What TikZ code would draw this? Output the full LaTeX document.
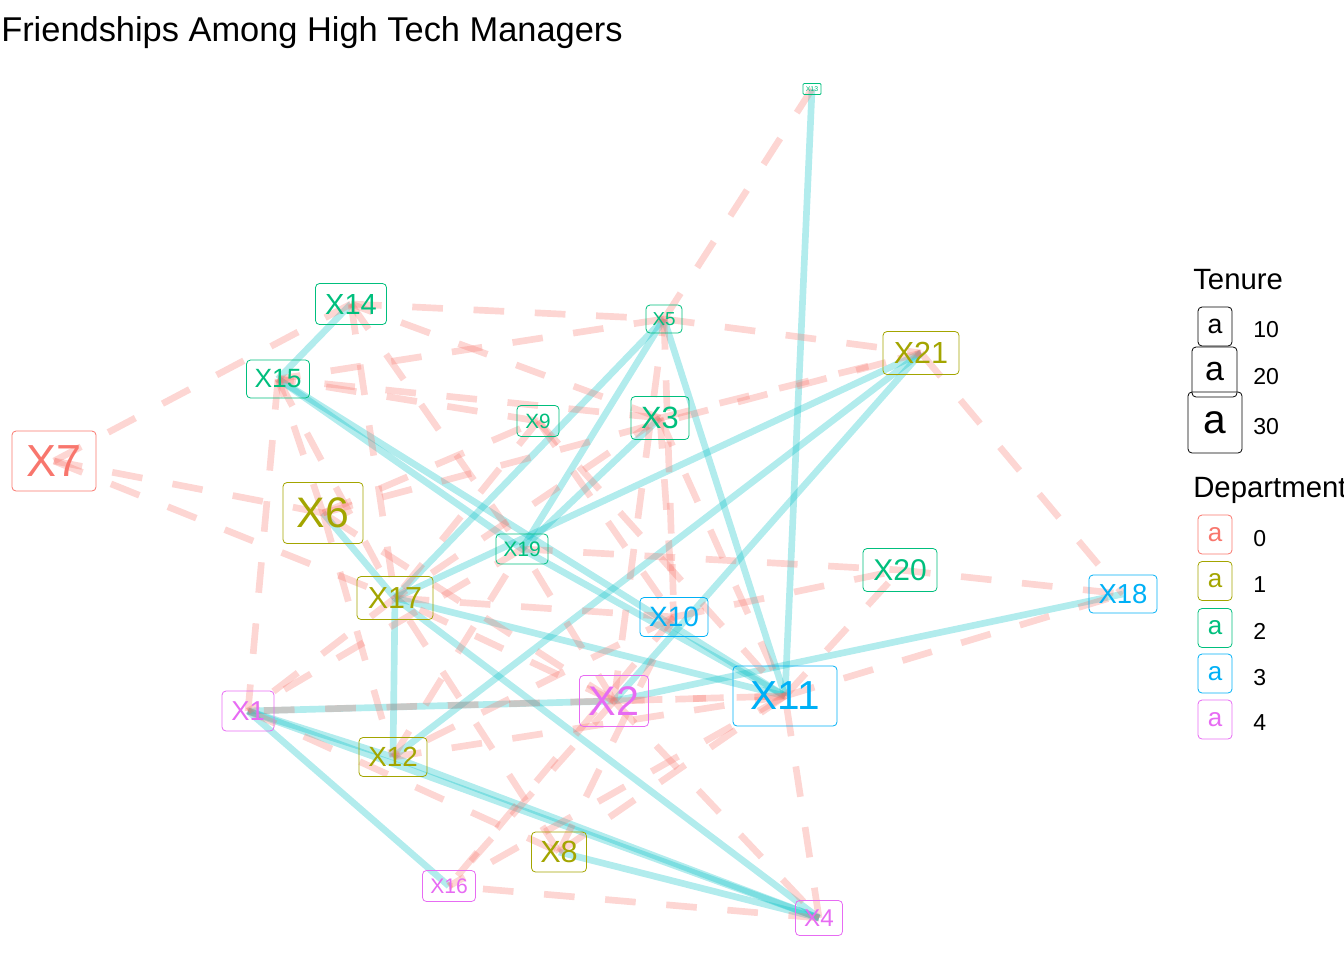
\documentclass[tikz,border=0pt]{standalone}
\usepackage{fontspec}
\setmainfont{Liberation Sans}
\definecolor{d0}{HTML}{F8766D}
\definecolor{d1}{HTML}{A3A500}
\definecolor{d2}{HTML}{00BF7D}
\definecolor{d3}{HTML}{00B0F6}
\definecolor{d4}{HTML}{E76BF3}
\definecolor{cyanE}{HTML}{00BFC4}
\definecolor{redE}{HTML}{F8766D}
\pgfdeclarelayer{edges}
\pgfsetlayers{edges,main}
\newcommand\fsz[1]{\fontsize{#1}{#1}\selectfont}
\begin{document}
\begin{tikzpicture}[x=0.75pt,y=-0.75pt,
  lab/.style={draw=#1, text=#1, rounded corners=3pt, line width=0.6pt, inner sep=0pt},
  fr/.style={draw=cyanE, line width=5pt, draw opacity=0.3},
  ad/.style={draw=redE, line width=5pt, draw opacity=0.3, dash pattern=on 23pt off 23pt},
  leg/.style={anchor=west, inner sep=0pt, font=\fsz{17.3}}]
\useasboundingbox (0,0) rectangle (1344,960);
\node[anchor=base west, inner sep=0pt, font=\fsz{25.8}] (title) at (1,41) {Friendships Among High Tech Managers};
% nodes
\node[lab=d4, minimum width=39pt, minimum height=30pt, font=\fsz{20.5}] (n1) at (248,711) {X1};
\node[lab=d4, minimum width=51.75pt, minimum height=38.25pt, font=\fsz{31}] (n2) at (614,701) {X2};
\node[lab=d2, minimum width=43.5pt, minimum height=32.25pt, font=\fsz{23.1}] (n3) at (660,418) {X3};
\node[lab=d4, minimum width=35.25pt, minimum height=26.25pt, font=\fsz{18.2}] (n4) at (819,918) {X4};
\node[lab=d2, minimum width=27pt, minimum height=21pt, font=\fsz{14.1}] (n5) at (664,319) {X5};
\node[lab=d1, minimum width=60pt, minimum height=45.75pt, font=\fsz{32}] (n6) at (323,513) {X6};
\node[lab=d0, minimum width=63pt, minimum height=45pt, font=\fsz{33.7}] (n7) at (54,461) {X7};
\node[lab=d1, minimum width=41.25pt, minimum height=30pt, font=\fsz{23}] (n8) at (559,852) {X8};
\node[lab=d2, minimum width=31.5pt, minimum height=23.25pt, font=\fsz{15.5}] (n9) at (538,421) {X9};
\node[lab=d3, minimum width=51pt, minimum height=29.25pt, font=\fsz{21}] (n10) at (674,617) {X10};
\node[lab=d3, minimum width=78pt, minimum height=45pt, font=\fsz{30.4}] (n11) at (785,696) {X11};
\node[lab=d1, minimum width=51pt, minimum height=29.25pt, font=\fsz{20.8}] (n12) at (393,757) {X12};
\node[lab=d2, minimum width=13.5pt, minimum height=8.25pt, font=\fsz{5.2}, rounded corners=0.8pt] (n13) at (812,89) {X13};
\node[lab=d2, minimum width=53.25pt, minimum height=30.75pt, font=\fsz{21.8}] (n14) at (351,304) {X14};
\node[lab=d2, minimum width=47.25pt, minimum height=28.5pt, font=\fsz{19.8}] (n15) at (278,379) {X15};
\node[lab=d4, minimum width=39.75pt, minimum height=23.25pt, font=\fsz{15.8}] (n16) at (449,886) {X16};
\node[lab=d1, minimum width=57pt, minimum height=32.25pt, font=\fsz{22.8}] (n17) at (395,598) {X17};
\node[lab=d3, minimum width=51pt, minimum height=28.5pt, font=\fsz{20.6}] (n18) at (1123,594) {X18};
\node[lab=d2, minimum width=39pt, minimum height=22.5pt, font=\fsz{15.8}] (n19) at (522,549) {X19};
\node[lab=d2, minimum width=55.5pt, minimum height=32.25pt, font=\fsz{22.5}] (n20) at (900,570) {X20};
\node[lab=d1, minimum width=57pt, minimum height=32.25pt, font=\fsz{22.9}] (n21) at (921,353) {X21};
% edges
\begin{pgfonlayer}{edges}
\foreach \a/\b in {1/2,1/4,1/12,1/16,2/18,2/21,3/19,4/8,4/12,4/17,5/11,5/17,5/19,6/17,11/13,11/19,11/15,11/17,12/17,12/21,14/15,15/19,17/21}
  \draw[fr] (n\a.center) -- (n\b.center);
\foreach \a/\b in {1/8,2/4,2/5,2/6,2/11,2/16,2/17,2/19,3/14,3/10,3/11,3/15,3/17,4/16,4/11,5/21,5/10,5/13,5/15,6/7,6/9,6/12,6/21,6/15,7/14,7/17,8/10,8/11,8/17,9/10,9/11,9/15,9/17,10/12,10/16,10/20,10/17,11/1,11/12,11/16,11/18,11/20,12/19,14/17,14/19,15/1,15/17,17/1,19/1,19/20,14/5,3/21,21/18,20/18}
  \draw[ad] (n\a.center) -- (n\b.center);
\end{pgfonlayer}
% legend
\node[anchor=base west, inner sep=0pt, font=\fsz{22}] (tten) at (1193,289) {Tenure};
\node[lab=black, minimum width=25.5pt, minimum height=29.25pt, font=\fsz{20}] (k10) at (1215,326.5) {a};
\node[lab=black, minimum width=33.75pt, minimum height=37.5pt, font=\fsz{25.5}] (k20) at (1214.5,372) {a};
\node[lab=black, minimum width=40.5pt, minimum height=45.75pt, font=\fsz{30.5}] (k30) at (1215,422.5) {a};
\node[leg] (l10) at (1253,330) {10};
\node[leg] (l20) at (1253,376.5) {20};
\node[leg] (l30) at (1253,426.5) {30};
\node[anchor=base west, inner sep=0pt, font=\fsz{22}] (tdep) at (1193,497) {Department};
\node[lab=d0, minimum width=25.5pt, minimum height=29.25pt, font=\fsz{19.5}] (k0) at (1215,534.5) {a};
\node[lab=d1, minimum width=25.5pt, minimum height=29.25pt, font=\fsz{19.5}] (k1) at (1215,581) {a};
\node[lab=d2, minimum width=25.5pt, minimum height=29.25pt, font=\fsz{19.5}] (k2) at (1215,628) {a};
\node[lab=d3, minimum width=25.5pt, minimum height=29.25pt, font=\fsz{19.5}] (k3) at (1215,673.5) {a};
\node[lab=d4, minimum width=25.5pt, minimum height=29.25pt, font=\fsz{19.5}] (k4) at (1215,719.5) {a};
\node[leg] (l0) at (1253,538.5) {0};
\node[leg] (l1) at (1253,585) {1};
\node[leg] (l2) at (1253,631) {2};
\node[leg] (l3) at (1253,677.5) {3};
\node[leg] (l4) at (1253,722.5) {4};
\end{tikzpicture}
\end{document}
